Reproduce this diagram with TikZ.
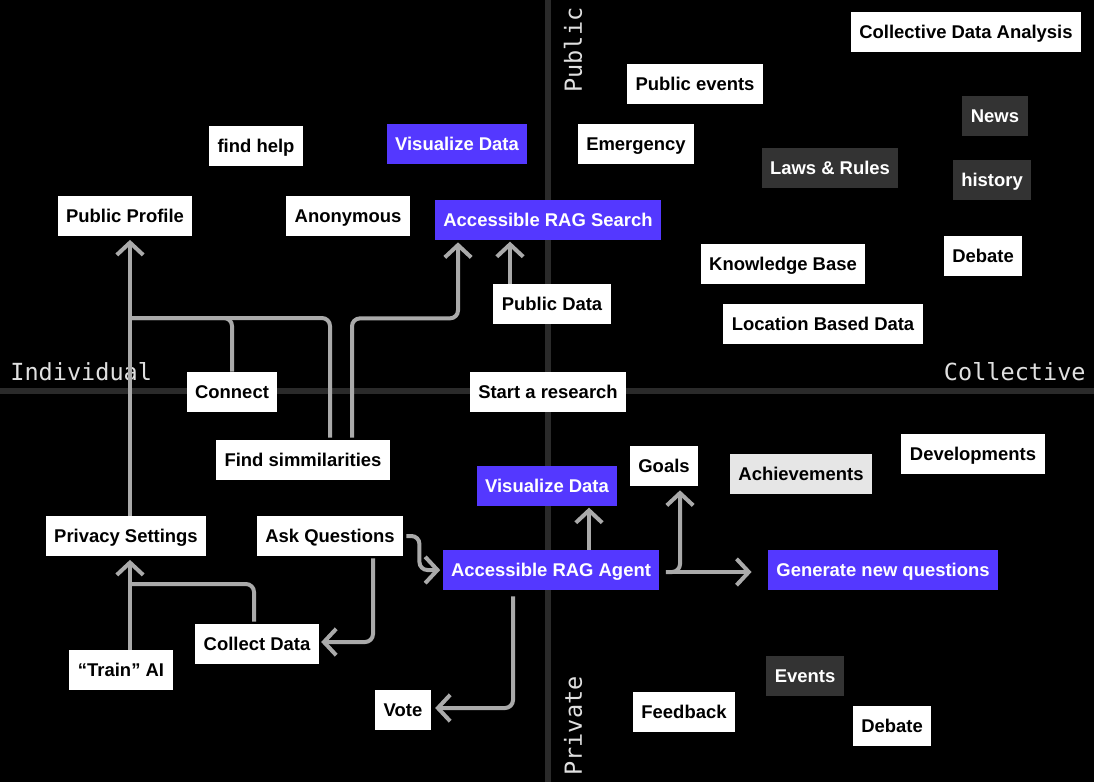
\documentclass[tikz,border=0pt]{standalone}
\usepackage{fontspec}
\setmainfont{Liberation Sans}
\newfontfamily\axisfont{DejaVu Sans Mono}
\usetikzlibrary{arrows.meta,calc}
\definecolor{ragblue}{RGB}{84,56,255}
\definecolor{darkbox}{RGB}{51,51,51}
\definecolor{lightbox}{RGB}{230,230,230}
\definecolor{axisgray}{RGB}{42,42,42}
\definecolor{wiregray}{RGB}{170,170,170}
\begin{document}
\begin{tikzpicture}[x=0.02cm,y=-0.02cm,
    box/.style={fill=white,text=black,font=\bfseries\fontsize{10.5}{12}\selectfont,
      inner xsep=0.17cm,inner ysep=0pt,minimum height=0.8cm,text height=8.2pt,text depth=0.7pt},
    rag/.style={box,fill=ragblue,text=white},
    dim/.style={box,fill=darkbox,text=white},
    pale/.style={box,fill=lightbox},
    axis/.style={draw=axisgray,line width=0.12cm},
    axislabel/.style={text=white!88!black,font=\axisfont\fontsize{13.4}{14}\selectfont,inner sep=0pt},
    wire/.style={draw=wiregray,line width=0.08cm,rounded corners=0.16cm},
    link/.style={wire,-{Straight Barb[length=7pt,width=15pt]}}]
    \fill[black] (0,0) rectangle (1094,782);
    \useasboundingbox (0,0) rectangle (1094,782);
    \draw[axis] (0,391) -- (1094,391);
    \draw[axis] (548,0) -- (548,782);
    \node[axislabel,anchor=west] (indiv) at (10,372) {Individual};
    \node[axislabel,anchor=east] (collv) at (1086,372) {Collective};
    \node[axislabel,rotate=90] (public) at (573,50) {Public};
    \node[axislabel,rotate=90] (private) at (573,726) {Private};

    \node[box] (cda) at (966,32) {Collective Data Analysis};
    \node[box] (pubev) at (695,84) {Public events};
    \node[dim] (news) at (995,116) {News};
    \node[box] (emerg) at (636,144) {Emergency};
    \node[dim] (laws) at (830,168) {Laws \& Rules};
    \node[dim] (hist) at (992,180) {history};
    \node[box] (findhelp) at (256,146) {find help};
    \node[rag] (visA) at (457,144) {Visualize Data};
    \node[box] (pubprof) at (125,216) {Public Profile};
    \node[box] (anon) at (348,216) {Anonymous};
    \node[rag] (ragsearch) at (548,220) {Accessible RAG Search};
    \node[box] (kb) at (783,264) {Knowledge Base};
    \node[box] (debateA) at (983,256) {Debate};
    \node[box] (pubdata) at (552,304) {Public Data};
    \node[box] (locdata) at (823,324) {Location Based Data};
    \node[box] (connect) at (232,392) {Connect};
    \node[box] (research) at (548,392) {Start a research};
    \node[box] (findsim) at (303,460) {Find simmilarities};
    \node[box] (goals) at (664,466) {Goals};
    \node[pale] (achiev) at (801,474) {Achievements};
    \node[box] (devel) at (973,454) {Developments};
    \node[rag] (visB) at (547,486) {Visualize Data};
    \node[box] (privacy) at (126,536) {Privacy Settings};
    \node[box] (ask) at (330,536) {Ask Questions};
    \node[rag] (ragagent) at (551,570) {Accessible RAG Agent};
    \node[rag] (genq) at (883,570) {Generate new questions};
    \node[box] (collect) at (257,644) {Collect Data};
    \node[box] (train) at (121,670) {``Train'' AI};
    \node[dim] (events) at (805,676) {Events};
    \node[box] (vote) at (403,710) {Vote};
    \node[box] (feedback) at (684,712) {Feedback};
    \node[box] (debateB) at (892,726) {Debate};

    \coordinate (jtop) at (130,318);
    \coordinate (jbot) at (130,584);
    \draw[link] (jtop |- privacy.north) -- ([yshift=-2pt]jtop |- pubprof.south);
    \draw[wire] (connect.north) |- (jtop);
    \draw[wire] ($(findsim.north)+(27,-2)$) |- (jtop);
    \draw[link] ($(findsim.north)+(49,-2)$) |- ($(ragsearch.south)+(-90,78)$) -- ($(ragsearch.south)+(-90,2)$);
    \draw[link] ($(pubdata.north)+(-42,0)$) --++ (0,-42);
    \draw[link] (jbot |- train.north) -- ([yshift=-2pt]jbot |- privacy.south);
    \draw[wire] ($(collect.north)+(-3,-2)$) |- (jbot);
    \draw[link] ($(ask.south)+(43,2)$) |- ($(collect.east)+(2,-2)$);
    \draw[link] ($(ask.east)+(3,0)$) --++ (13,0) |- ($(ragagent.west)+(-2,0)$);
    \draw[link] ($(ragagent.north)+(38,0)$) --++ (0,-42);
    \draw[link] ($(ragagent.east)+(6,2)$) -| ($(goals.south)+(16,4)$);
    \draw[link] ($(ragagent.east)+(6,2)$) -- ($(genq.west)+(-16,2)$);
    \draw[link] ($(ragagent.south)+(-38,6)$) |- ($(vote.east)+(4,-2)$);
\end{tikzpicture}
\end{document}
